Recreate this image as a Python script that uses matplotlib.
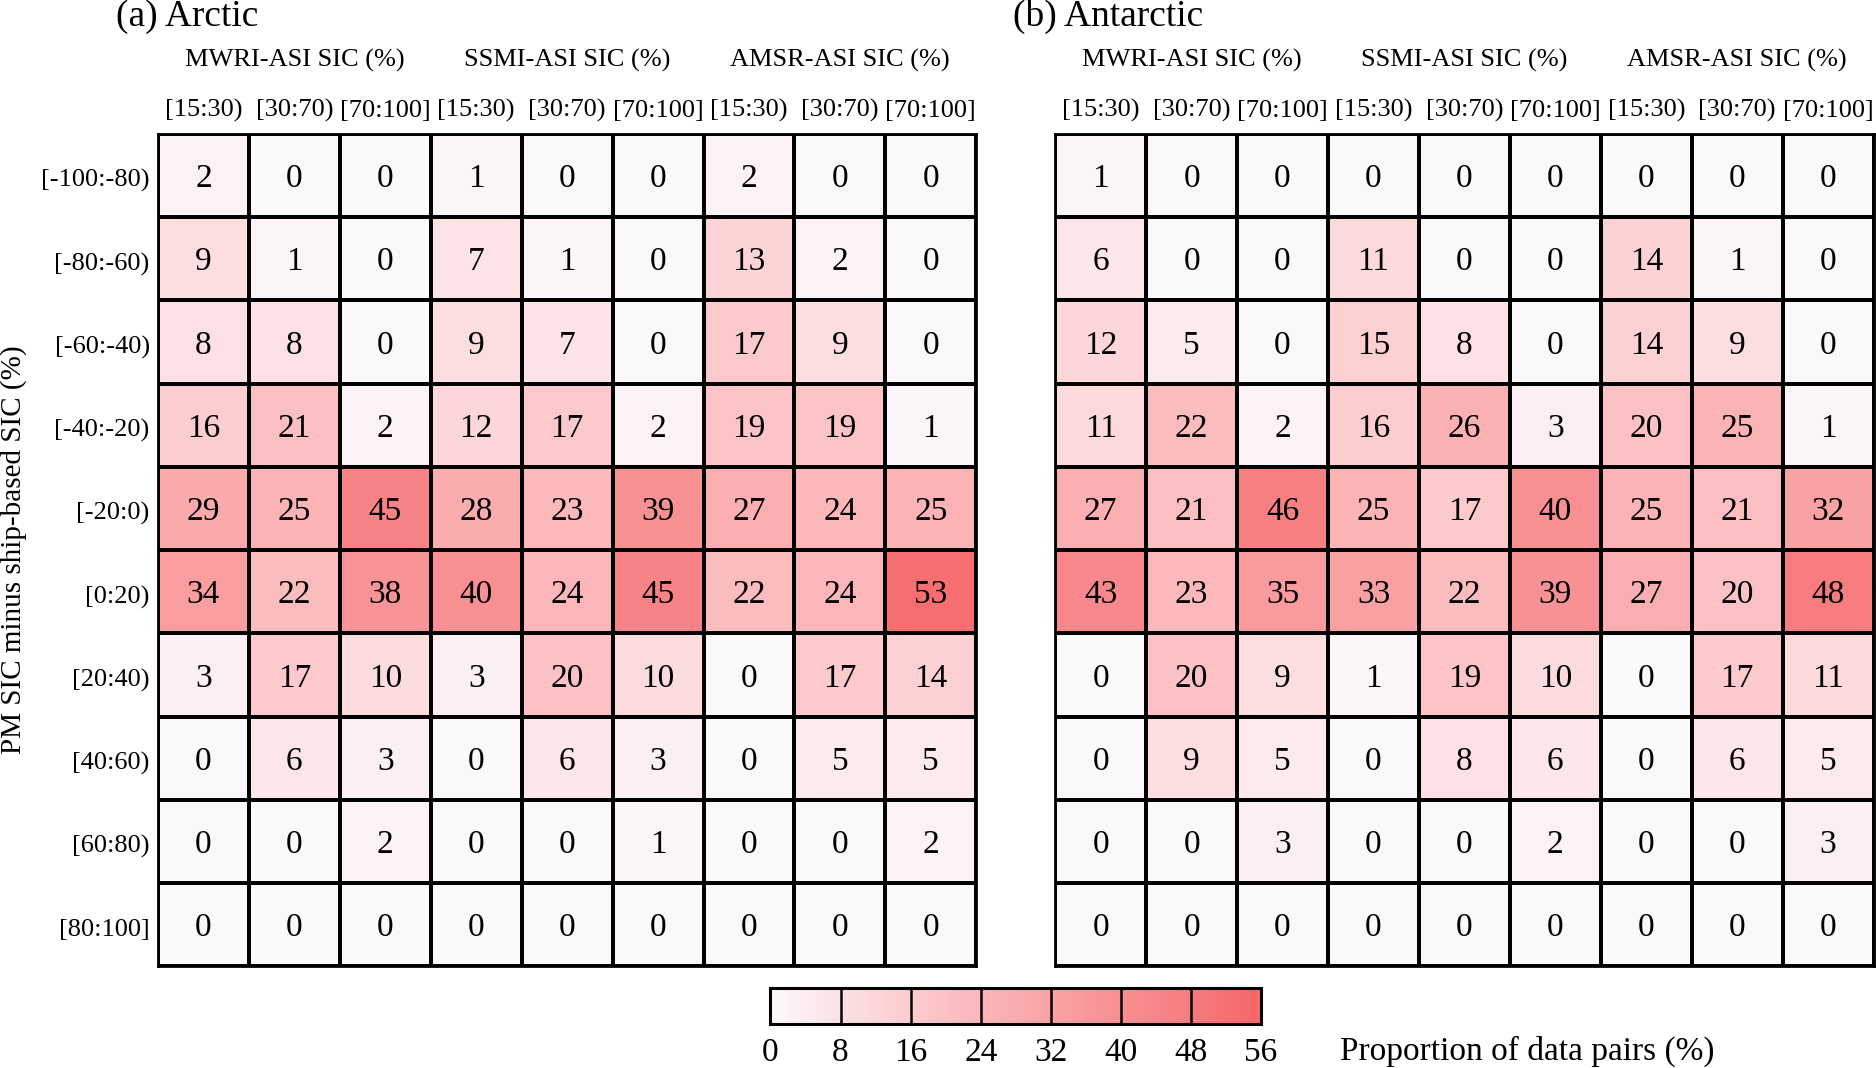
import numpy as np
import matplotlib
matplotlib.use("Agg")
import matplotlib.pyplot as plt
from matplotlib.colors import LinearSegmentedColormap, Normalize
import matplotlib.cm as cm

plt.rcParams['font.family'] = ['Liberation Serif', 'DejaVu Serif']

# data
row_labels = ['[-100:-80)', '[-80:-60)', '[-60:-40)', '[-40:-20)', '[-20:0)',
              '[0:20)', '[20:40)', '[40:60)', '[60:80)', '[80:100]']
bin_labels = ['[15:30)', '[30:70)', '[70:100]'] * 3
products = ['MWRI-ASI SIC (%)', 'SSMI-ASI SIC (%)', 'AMSR-ASI SIC (%)']
panel_titles = ['(a) Arctic', '(b) Antarctic']

arctic = np.array([
    [2, 0, 0, 1, 0, 0, 2, 0, 0],
    [9, 1, 0, 7, 1, 0, 13, 2, 0],
    [8, 8, 0, 9, 7, 0, 17, 9, 0],
    [16, 21, 2, 12, 17, 2, 19, 19, 1],
    [29, 25, 45, 28, 23, 39, 27, 24, 25],
    [34, 22, 38, 40, 24, 45, 22, 24, 53],
    [3, 17, 10, 3, 20, 10, 0, 17, 14],
    [0, 6, 3, 0, 6, 3, 0, 5, 5],
    [0, 0, 2, 0, 0, 1, 0, 0, 2],
    [0, 0, 0, 0, 0, 0, 0, 0, 0],
])
antarctic = np.array([
    [1, 0, 0, 0, 0, 0, 0, 0, 0],
    [6, 0, 0, 11, 0, 0, 14, 1, 0],
    [12, 5, 0, 15, 8, 0, 14, 9, 0],
    [11, 22, 2, 16, 26, 3, 20, 25, 1],
    [27, 21, 46, 25, 17, 40, 25, 21, 32],
    [43, 23, 35, 33, 22, 39, 27, 20, 48],
    [0, 20, 9, 1, 19, 10, 0, 17, 11],
    [0, 9, 5, 0, 8, 6, 0, 6, 5],
    [0, 0, 3, 0, 0, 2, 0, 0, 3],
    [0, 0, 0, 0, 0, 0, 0, 0, 0],
])
cbar_ticks = [0, 8, 16, 24, 32, 40, 48, 56]

# colours picked off the reference colorbar, one per tick
cmap_colors = ['#fbf8fc', '#fce0e3', '#fcccce', '#fbb6b9',
               '#f9a2a5', '#f88f92', '#f77c7f', '#f56668']
cmap = LinearSegmentedColormap.from_list('wr', cmap_colors)
norm = Normalize(vmin=0, vmax=56)

fig = plt.figure(figsize=(18.76, 10.68), dpi=100)
lefts = [0.0842, 0.5625]

for k, data in enumerate([arctic, antarctic]):
    ax = fig.add_axes([lefts[k], 0.0952, 0.4362, 0.7794])
    nr, nc = data.shape
    ax.pcolormesh(np.arange(nc + 1), np.arange(nr + 1), data, cmap=cmap, norm=norm,
                  edgecolors='k', linewidth=1.6)
    ax.set_xlim(0, nc)
    ax.set_ylim(nr, 0)
    for i in range(nr):
        for j in range(nc):
            ax.text(j + 0.5, i + 0.54, str(data[i, j]), ha='center', va='center', fontsize=24)
    ax.xaxis.tick_top()
    ax.set_xticks(np.arange(nc) + 0.5)
    ax.set_xticklabels(bin_labels, fontsize=19)
    ax.set_yticks(np.arange(nr) + 0.53)
    ax.set_yticklabels(row_labels if k == 0 else [], fontsize=19)
    ax.tick_params(length=0, pad=6)
    ax.tick_params(axis='x', pad=8.5)
    for s in ax.spines.values():
        s.set_linewidth(2)
    for g, name in enumerate(products):
        ax.text(3 * g + 1.5, -0.88, name, ha='center', va='center', fontsize=19)
    ax.text(-0.46, -1.41, panel_titles[k], ha='left', va='center', fontsize=27)
    if k == 0:
        ax.set_ylabel('PM SIC minus ship-based SIC (%)', fontsize=21, labelpad=10)

cax = fig.add_axes([0.4107, 0.0414, 0.2615, 0.0336])
cb = fig.colorbar(cm.ScalarMappable(norm=norm, cmap=cmap), cax=cax, orientation='horizontal',
                  ticks=cbar_ticks)
cb.outline.set_linewidth(2.2)
cb.ax.tick_params(length=0, labelsize=24, pad=10)
for t in cbar_ticks[1:-1]:
    cax.axvline(t, color='k', linewidth=1.8)
fig.text(0.7143, 0.016, 'Proportion of data pairs (%)', ha='left', va='center', fontsize=24)

fig.savefig('out.png', dpi=100)
